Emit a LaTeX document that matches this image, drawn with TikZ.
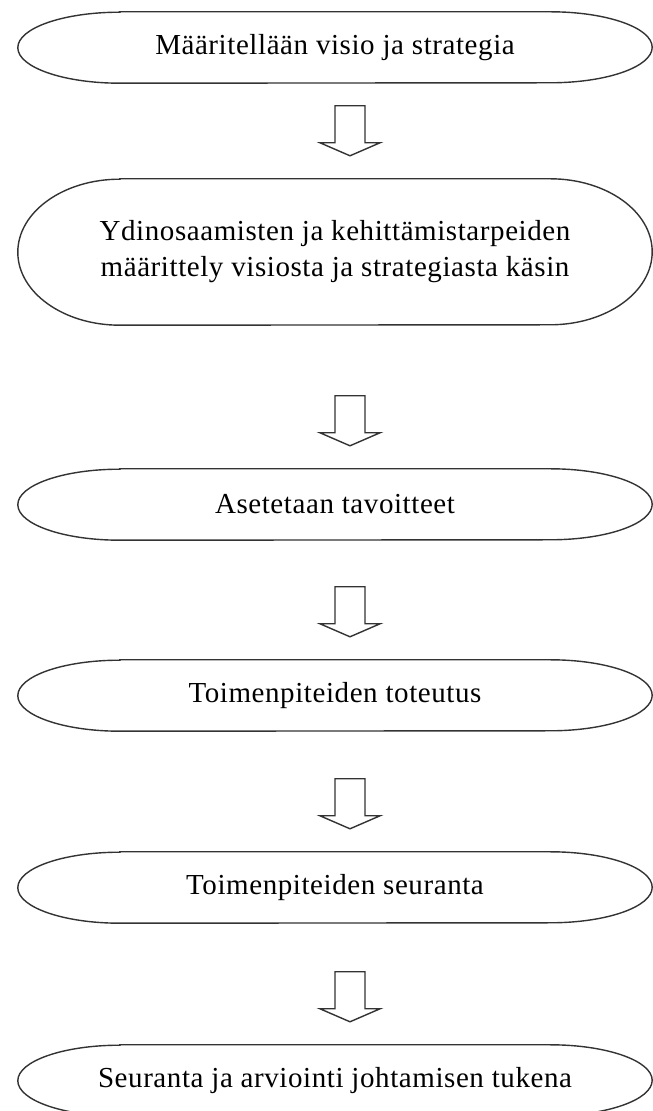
\documentclass[tikz,border=0pt]{standalone}
\usepackage{fontspec}
\setmainfont{Liberation Serif}[LetterSpace=2]
\begin{document}
\begin{tikzpicture}[x=1pt,y=1pt,
  termtext/.style={rectangle,inner sep=0pt,minimum width=634pt,align=center,
    font=\fontsize{29}{36}\selectfont},
  outline/.style={line width=1.4pt,draw=black!80},
  blockarrow/.style={line width=1.4pt,draw=black!80,fill=white,line join=miter}]
\useasboundingbox (0,0) rectangle (653,1111);
% terminator ovals
\newcommand{\termshape}[2]{% name, half height
  \draw[outline] ([xshift=102pt]#1.north west) -- ([xshift=-102pt]#1.north east)
    arc[start angle=90,end angle=-90,x radius=102pt,y radius=#2]
    -- ([xshift=102pt]#1.south west)
    arc[start angle=270,end angle=90,x radius=102pt,y radius=#2] -- cycle;}
\node[termtext,minimum height=71pt] (n1) at (335,1063.5) {Määritellään visio ja strategia};
\node[termtext,minimum height=146pt] (n2) at (335,859) {Ydinosaamisten ja kehittämistarpeiden\\määrittely visiosta ja strategiasta käsin};
\node[termtext,minimum height=71pt] (n3) at (335,606.5) {Asetetaan tavoitteet};
\node[termtext,minimum height=71pt] (n4) at (335,415.5) {Toimenpiteiden toteutus};
\node[termtext,minimum height=71pt] (n5) at (335,223.5) {Toimenpiteiden seuranta};
\node[termtext,minimum height=71pt] (n6) at (335,30.5) {Seuranta ja arviointi johtamisen tukena};
\termshape{n1}{35.5pt}
\termshape{n2}{73pt}
\termshape{n3}{35.5pt}
\termshape{n4}{35.5pt}
\termshape{n5}{35.5pt}
\termshape{n6}{35.5pt}
% block arrows (tip 23pt above the next oval)
\foreach \b in {n2,n3,n4,n5,n6}{
  \coordinate (tip-\b) at ([yshift=23pt]\b.north -| 350,0);
  \draw[blockarrow] (tip-\b) -- ++(30,13) -- ++(-15,0) -- ++(0,37) -- ++(-30,0)
    -- ++(0,-37) -- ++(-15,0) -- cycle;
}
\end{tikzpicture}
\end{document}
